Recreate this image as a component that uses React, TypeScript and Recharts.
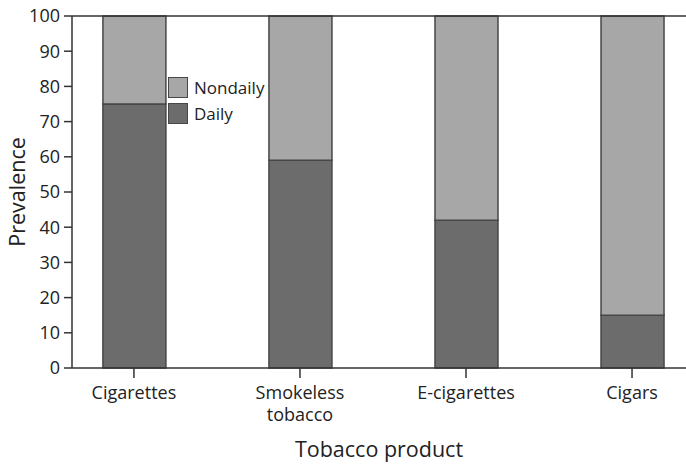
import { BarChart, Bar, XAxis, YAxis, Legend, ReferenceLine, Label } from 'recharts';

const categories = ['Cigarettes', 'Smokeless\ntobacco', 'E-cigarettes', 'Cigars'];
const daily = [75, 59, 42, 15];
const nondaily = [25, 41, 58, 85];
const yTicks = [0, 10, 20, 30, 40, 50, 60, 70, 80, 90, 100];
const catIndex = [0, 1, 2, 3];

const FONT = '"Open Sans", "Noto Sans", sans-serif';
const DAILY_COLOR = '#6c6c6c';
const NONDAILY_COLOR = '#a7a7a7';
const EDGE = '#474747';

const data = categories.map((name, i) => ({
  idx: catIndex[i],
  name,
  daily: daily[i],
  nondaily: nondaily[i],
}));

const CategoryTick = ({ x, y, payload }: any) => {
  const lines = categories[payload.value].split('\n');
  return (
    <text x={x} y={y} textAnchor="middle" fill="#222" fontSize={18} fontFamily={FONT}>
      {lines.map((line, i) => (
        <tspan key={i} x={x} dy={i === 0 ? 19 : 22}>
          {line}
        </tspan>
      ))}
    </text>
  );
};

const LegendBox = () => {
  const items = [
    { name: 'Nondaily', color: NONDAILY_COLOR },
    { name: 'Daily', color: DAILY_COLOR },
  ];
  return (
    <div style={{ fontFamily: FONT, fontSize: 17, color: '#222' }}>
      {items.map((it) => (
        <div key={it.name} style={{ display: 'flex', alignItems: 'center', height: 21, marginBottom: 5 }}>
          <span
            style={{
              display: 'inline-block',
              boxSizing: 'border-box',
              width: 20,
              height: 21,
              background: it.color,
              border: `1.5px solid ${EDGE}`,
              marginRight: 6,
            }}
          />
          {it.name}
        </div>
      ))}
    </div>
  );
};

export default function App() {
  return (
    <div style={{ position: 'absolute', left: 0, top: 0, background: '#fff' }}>
      <BarChart
        width={686}
        height={464}
        data={data}
        margin={{ top: 16, right: 0, left: 0, bottom: 0 }}
      >
        <XAxis
          dataKey="idx"
          type="number"
          domain={[-0.373, 3.325]}
          ticks={catIndex}
          allowDataOverflow
          tick={<CategoryTick />}
          tickLine={{ stroke: '#333', strokeWidth: 1.5 }}
          tickSize={10}
          axisLine={{ stroke: '#333', strokeWidth: 1.5 }}
          height={96}
        >
          <Label
            value="Tobacco product"
            position="insideBottom"
            offset={7}
            fill="#222"
            fontSize={21.5}
            fontFamily={FONT}
          />
        </XAxis>
        <YAxis
          domain={[0, 100]}
          ticks={yTicks}
          interval={0}
          width={72}
          tick={{ fill: '#222', fontSize: 18, fontFamily: FONT }}
          tickLine={{ stroke: '#333', strokeWidth: 1.5 }}
          tickSize={8}
          tickMargin={4}
          axisLine={{ stroke: '#333', strokeWidth: 1.5 }}
        >
          <Label
            value="Prevalence"
            angle={-90}
            position="insideLeft"
            offset={17}
            style={{ textAnchor: 'middle' }}
            fill="#222"
            fontSize={21.5}
            fontFamily={FONT}
          />
        </YAxis>
        <ReferenceLine y={100} stroke="#333" strokeWidth={1.5} />
        <Legend
          layout="vertical"
          align="center"
          verticalAlign="middle"
          content={<LegendBox />}
          wrapperStyle={{ position: 'absolute', left: 168, top: 77, width: 100 }}
        />
        <Bar
          dataKey="daily"
          name="Daily"
          stackId="use"
          barSize={63}
          fill={DAILY_COLOR}
          stroke={EDGE}
          strokeWidth={1.5}
          isAnimationActive={false}
        />
        <Bar
          dataKey="nondaily"
          name="Nondaily"
          stackId="use"
          barSize={63}
          fill={NONDAILY_COLOR}
          stroke={EDGE}
          strokeWidth={1.5}
          isAnimationActive={false}
        />
      </BarChart>
    </div>
  );
}
